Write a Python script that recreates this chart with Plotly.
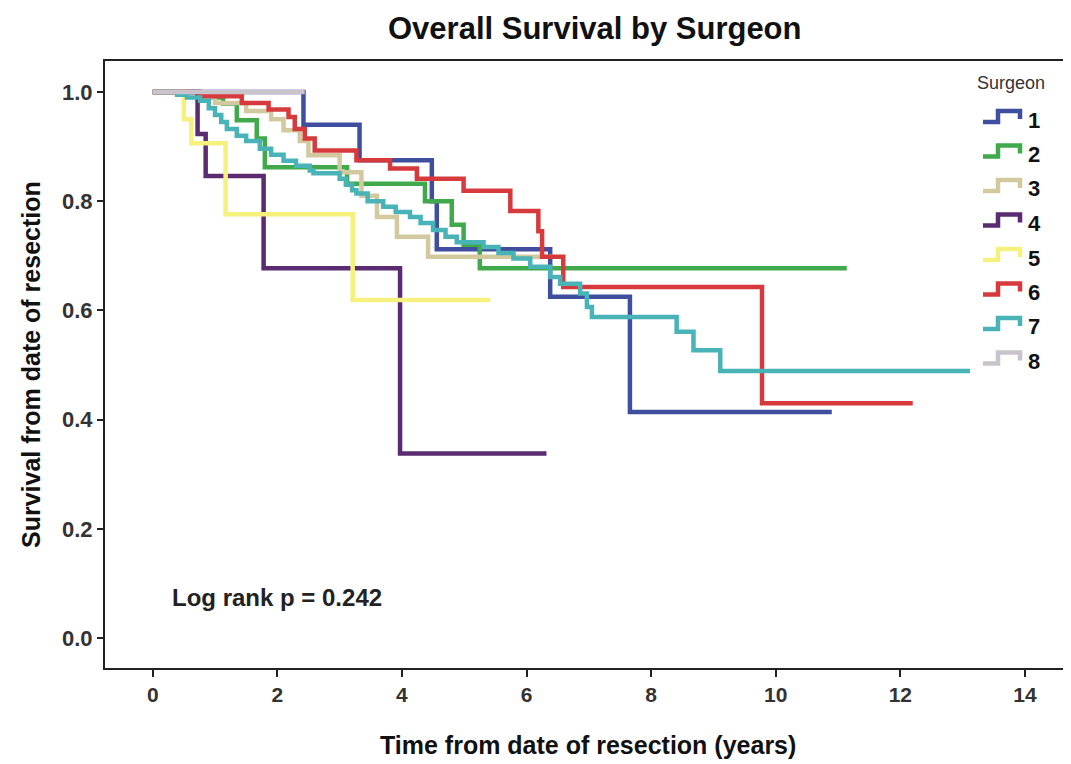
import plotly.graph_objects as go

# ---------------- data ----------------
surgeons = ["1", "2", "3", "4", "5", "6", "7", "8"]

s1_time = [0, 2.42, 3.32, 4.48, 4.56, 6.38, 7.66, 10.9]
s1_surv = [1.0, 0.94, 0.875, 0.80, 0.712, 0.625, 0.414, 0.414]

s2_time = [0, 0.75, 1.13, 1.35, 1.67, 1.80, 3.12, 4.37, 4.80, 4.99, 5.25, 11.14]
s2_surv = [1.0, 0.99, 0.979, 0.948, 0.915, 0.862, 0.832, 0.80, 0.757, 0.72, 0.677, 0.677]

s3_time = [0, 0.7, 1.0, 1.5, 1.9, 2.1, 2.36, 2.5, 3.0, 3.35, 3.6, 3.92, 4.42, 6.45]
s3_surv = [1.0, 0.99, 0.98, 0.965, 0.95, 0.93, 0.91, 0.884, 0.853, 0.81, 0.771, 0.735, 0.698, 0.698]

s4_time = [0, 0.72, 0.85, 1.78, 3.97, 6.32]
s4_surv = [1.0, 0.923, 0.846, 0.677, 0.338, 0.338]

s5_time = [0, 0.5, 0.62, 1.17, 3.21, 5.42]
s5_surv = [1.0, 0.95, 0.906, 0.776, 0.619, 0.619]

s6_time = [0, 0.76, 1.43, 1.86, 2.18, 2.28, 2.44, 2.60, 3.27, 3.81, 4.24, 4.99,
           5.74, 6.19, 6.25, 6.59, 9.78, 12.2]
s6_surv = [1.0, 0.992, 0.98, 0.968, 0.954, 0.932, 0.915, 0.893, 0.875, 0.86, 0.841, 0.819,
           0.782, 0.745, 0.698, 0.643, 0.43, 0.43]

s7_time = [0, 0.39, 0.55, 0.76, 0.9, 1.0, 1.1, 1.19, 1.35, 1.5, 1.72, 1.9, 2.10, 2.3,
           2.52, 2.58, 3.0, 3.1, 3.2, 3.27, 3.45, 3.70, 3.9, 4.13, 4.3, 4.50, 4.7, 4.88,
           5.31, 5.55, 5.79, 6.06, 6.38, 6.54, 6.86, 6.97, 7.05, 8.41, 8.68, 9.11, 13.12]
s7_surv = [1.0, 0.995, 0.99, 0.984, 0.97, 0.958, 0.945, 0.932, 0.92, 0.91, 0.896, 0.885,
           0.874, 0.865, 0.856, 0.851, 0.841, 0.83, 0.82, 0.814, 0.80, 0.79, 0.78, 0.771,
           0.76, 0.747, 0.735, 0.725, 0.716, 0.705, 0.695, 0.68, 0.661, 0.649, 0.631,
           0.606, 0.588, 0.561, 0.527, 0.489, 0.489]

s8_time = [0, 2.44]
s8_surv = [1.0, 1.0]

x_ticks = [0, 2, 4, 6, 8, 10, 12, 14]
y_ticks = [0.0, 0.2, 0.4, 0.6, 0.8, 1.0]

title_text = "Overall Survival by Surgeon"
x_title = "Time from date of resection (years)"
y_title = "Survival from date of resection"
legend_title = "Surgeon"
note_text = "Log rank p = 0.242"

# ---------------- styling ----------------
colors = ["#3F4E9E", "#3FA94B", "#D2C99E", "#5B2B71",
          "#F6F17C", "#D73A3C", "#48B4B8", "#C9C4CC"]
FONT = "Liberation Sans, Arial, sans-serif"

# the page body adds an 8px offset; size the figure so the screen positions match
OFF = 8
W, H = 1071 - OFF, 764 - OFF
ML, MR, MT = 105 - OFF, 0, 61 - OFF
MB = H - (668 - OFF)
PW, PH = W - ML - MR, H - MT - MB

times = [s1_time, s2_time, s3_time, s4_time, s5_time, s6_time, s7_time, s8_time]
survs = [s1_surv, s2_surv, s3_surv, s4_surv, s5_surv, s6_surv, s7_surv, s8_surv]

fig = go.Figure()
for name, t, s, c in zip(surgeons, times, survs, colors):
    fig.add_trace(go.Scatter(
        x=t, y=s, mode="lines", name=name, line_shape="hv",
        line=dict(color=c, width=4.5), showlegend=False,
    ))


# screen pixel -> paper coords
def px(xs):
    return (xs - OFF - ML) / PW


def py(ys):
    return (H - MB - (ys - OFF)) / PH


shapes = []
annotations = []
annotations.append(dict(
    text=legend_title, x=px(1011), y=py(83), xref="paper", yref="paper",
    showarrow=False, font=dict(family=FONT, size=18, color="#333333"),
    xanchor="center", yanchor="middle"))
for i, (name, c) in enumerate(zip(surgeons, colors)):
    yc = 120 + i * 34.5
    path = (f"M {px(983)},{py(yc + 2)} L {px(998)},{py(yc + 2)} "
            f"L {px(998)},{py(yc - 9)} L {px(1020)},{py(yc - 9)} "
            f"L {px(1020)},{py(yc - 1)}")
    shapes.append(dict(type="path", xref="paper", yref="paper", path=path,
                       line=dict(color=c, width=4.5)))
    annotations.append(dict(
        text=f"<b>{name}</b>", x=px(1026), y=py(yc), xref="paper", yref="paper",
        showarrow=False, font=dict(family=FONT, size=22, color="#111111"),
        xanchor="left", yanchor="middle"))

annotations.append(dict(
    text=f"<b>{note_text}</b>", x=0.27, y=0.075, xref="x", yref="y",
    showarrow=False, font=dict(family=FONT, size=24, color="#222222"),
    xanchor="left", yanchor="middle"))

# axis titles as annotations placed at the reference positions
annotations.append(dict(
    text=f"<b>{x_title}</b>", x=px(588), y=py(745), xref="paper", yref="paper",
    showarrow=False, font=dict(family=FONT, size=25, color="#111111"),
    xanchor="center", yanchor="middle"))
annotations.append(dict(
    text=f"<b>{y_title}</b>", x=px(31), y=py(365), xref="paper", yref="paper",
    showarrow=False, textangle=-90, font=dict(family=FONT, size=25, color="#111111"),
    xanchor="center", yanchor="middle"))
annotations.append(dict(
    text=f"<b>{title_text}</b>", x=px(595), y=py(28), xref="paper", yref="paper",
    showarrow=False, font=dict(family=FONT, size=31, color="#111111"),
    xanchor="center", yanchor="middle"))

fig.update_layout(
    width=W, height=H,
    margin=dict(l=ML, r=MR, t=MT, b=MB, autoexpand=False),
    paper_bgcolor="white", plot_bgcolor="white",
    shapes=shapes, annotations=annotations,
    showlegend=False,
    xaxis=dict(
        range=[-0.766, 14.74], tickvals=x_ticks, ticktext=[f"<b>{v}</b>" for v in x_ticks],
        showgrid=False, zeroline=False, showline=True, linecolor="#222222", linewidth=2,
        mirror=True, ticks="outside", ticklen=7, tickwidth=2, tickcolor="#222222",
        tickfont=dict(family=FONT, size=21, color="#333333"), automargin=False,
    ),
    yaxis=dict(
        range=[-0.0549, 1.0567], tickvals=y_ticks,
        ticktext=[f"<b>{v:.1f}</b>" for v in y_ticks],
        showgrid=False, zeroline=False, showline=True, linecolor="#222222", linewidth=2,
        ticks="outside", ticklen=6, tickwidth=2, tickcolor="#222222",
        tickfont=dict(family=FONT, size=22, color="#333333"), automargin=False,
    ),
)

fig.write_html("out.html")
